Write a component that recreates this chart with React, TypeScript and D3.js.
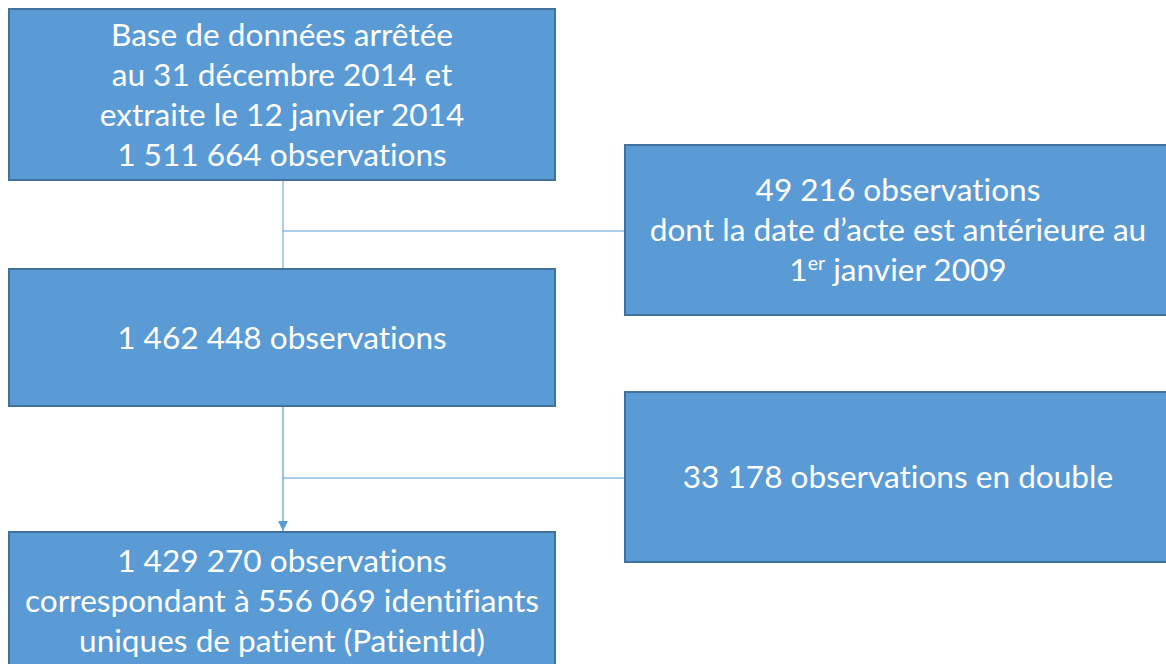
import { useRef, useEffect } from 'react';
import * as d3 from 'd3';

// text of each step (left column, top to bottom)
const mainSteps: string[][] = [
  ['Base de données arrêtée', 'au 31 décembre 2014 et', 'extraite le 12 janvier 2014', '1 511 664 observations'],
  ['1 462 448 observations'],
  ['1 429 270 observations', 'correspondant à 556 069 identifiants', 'uniques de patient (PatientId)'],
];

// exclusions (right column)
const exclusions: string[][] = [
  ['49 216 observations', 'dont la date d\u2019acte est antérieure au', '1|er| janvier 2009'],
  ['33 178 observations en double'],
];

export default function App() {
  const ref = useRef<SVGSVGElement>(null);

  useEffect(() => {
    const W = 1166, H = 664;
    const fill = '#5b9bd5', stroke = '#41719c', link = '#5b9bd5';
    const font = 'Lato, "Open Sans", sans-serif';
    const fs = 31.6, lh = 40;

    // layout
    const left = { x: 9, w: 546 };
    const right = { x: 625, w: 546 };
    const mainBoxes = [
      { y: 9, h: 171 },
      { y: 269, h: 137 },
      { y: 532, h: 138 },
    ];
    const exBoxes = [
      { y: 145, h: 170 },
      { y: 392, h: 170 },
    ];
    const spineX = 283;
    const branchY = [231, 478];

    const svg = d3.select(ref.current!)
      .attr('width', W).attr('height', H)
      .style('font-family', font)
      .style('font-variant-ligatures', 'none');
    svg.selectAll('*').remove();

    svg.append('defs').append('marker')
      .attr('id', 'arr')
      .attr('viewBox', '0 0 10 10')
      .attr('refX', 10).attr('refY', 5)
      .attr('markerWidth', 10).attr('markerHeight', 10)
      .attr('markerUnits', 'userSpaceOnUse')
      .attr('orient', 'auto')
      .append('path').attr('d', 'M0,0L10,5L0,10Z').attr('fill', link);

    // connectors
    const g = svg.append('g');
    g.append('line')
      .attr('x1', spineX).attr('x2', spineX)
      .attr('y1', mainBoxes[0].y + mainBoxes[0].h).attr('y2', mainBoxes[1].y)
      .attr('stroke', link).attr('stroke-width', 1);
    g.append('line')
      .attr('x1', spineX).attr('x2', spineX)
      .attr('y1', mainBoxes[1].y + mainBoxes[1].h).attr('y2', mainBoxes[2].y - 1)
      .attr('stroke', link).attr('stroke-width', 1.2)
      .attr('marker-end', 'url(#arr)');
    branchY.forEach(y => {
      g.append('line')
        .attr('x1', spineX).attr('x2', right.x)
        .attr('y1', y).attr('y2', y)
        .attr('stroke', link).attr('stroke-width', 1);
    });

    const drawBox = (x: number, w: number, b: { y: number; h: number }, lines: string[]) => {
      const bg = svg.append('g');
      bg.append('rect')
        .attr('x', x).attr('y', b.y).attr('width', w).attr('height', b.h)
        .attr('fill', fill).attr('stroke', stroke).attr('stroke-width', 2);
      const cx = x + w / 2;
      const cy = b.y + b.h / 2;
      const y0 = cy - ((lines.length - 1) * lh) / 2 + 11;
      lines.forEach((ln, i) => {
        const t = bg.append('text')
          .attr('x', cx).attr('y', y0 + i * lh)
          .attr('text-anchor', 'middle')
          .attr('fill', '#fff')
          .attr('font-size', fs);
        ln.split('|').forEach((part, j) => {
          const sp = t.append('tspan').text(part);
          if (j === 1) sp.attr('font-size', fs * 0.62).attr('dy', -11);
          if (j === 2) sp.attr('dy', 11);
        });
      });
    };

    mainSteps.forEach((lines, i) => drawBox(left.x, left.w, mainBoxes[i], lines));
    exclusions.forEach((lines, i) => drawBox(right.x, right.w, exBoxes[i], lines));
  }, []);

  return <svg ref={ref} style={{ position: 'absolute', left: 0, top: 0 }}></svg>;
}
